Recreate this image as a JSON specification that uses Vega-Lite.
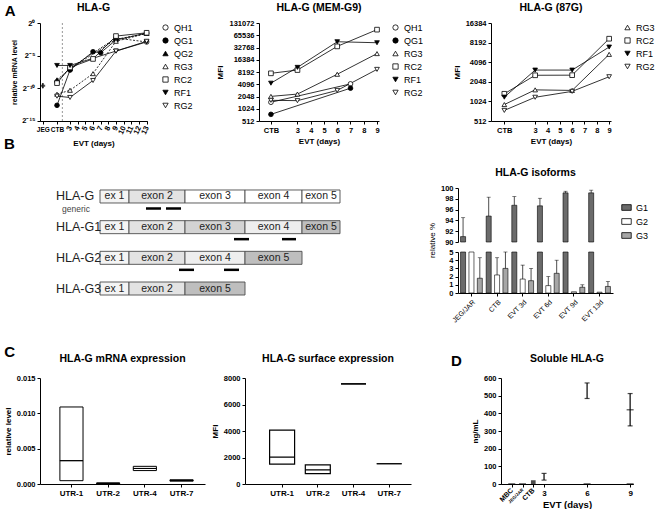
{
 "$schema": "https://vega.github.io/schema/vega-lite/v6.json",
 "padding": {"left": 4, "top": 2, "right": 2, "bottom": 0},
 "background": "white",
 "config": {
  "font": "Liberation Sans",
  "view": {"stroke": null},
  "axis": {"labelFontSize": 7.5, "labelFontWeight": "bold", "labelColor": "black", "titleFontSize": 8, "titleFontWeight": "bold", "titleColor": "black", "domainColor": "black", "tickColor": "black", "tickSize": 3, "grid": false, "labelPadding": 2, "titlePadding": 4, "labelOverlap": false, "tickCount": 40},
  "title": {"fontSize": 10.5, "fontWeight": "bold", "color": "black", "offset": 6},
  "legend": {"labelFontSize": 9, "labelColor": "black", "rowPadding": 3, "symbolStrokeWidth": 0.8, "symbolSize": 28, "offset": 12, "padding": 0}
 },
 "datasets": {
  "a1": [
   {"line": "QH1", "day": 1.3, "level": 0.001953}, {"line": "QH1", "day": 3, "level": 0.008373}, {"line": "QH1", "day": 9, "level": 0.2031}, {"line": "QH1", "day": 13, "level": 0.134},
   {"line": "QG1", "day": 1.3, "level": 0.0001611}, {"line": "QG1", "day": 3, "level": 0.006801}, {"line": "QG1", "day": 6, "level": 0.04737}, {"line": "QG1", "day": 7, "level": 0.0427}, {"line": "QG1", "day": 9, "level": 0.1649}, {"line": "QG1", "day": 13, "level": 0.3415},
   {"line": "QG2", "day": 1.3, "level": 0.002404}, {"line": "QG2", "day": 3, "level": 0.007813}, {"line": "QG2", "day": 9, "level": 0.1768}, {"line": "QG2", "day": 13, "level": 0.3299},
   {"line": "RG3", "day": 1.3, "level": 0.0005237}, {"line": "RG3", "day": 3, "level": 0.0007934}, {"line": "RG3", "day": 6, "level": 0.004645}, {"line": "RG3", "day": 9, "level": 0.1436}, {"line": "RG3", "day": 13, "level": 0.3299},
   {"line": "RC2", "day": 1.3, "level": 0.0017}, {"line": "RC2", "day": 3, "level": 0.008974}, {"line": "RC2", "day": 6, "level": 0.0221}, {"line": "RC2", "day": 9, "level": 0.25}, {"line": "RC2", "day": 13, "level": 0.3536},
   {"line": "RF1", "day": 1.3, "level": 0.01105}, {"line": "RF1", "day": 3, "level": 0.01105}, {"line": "RF1", "day": 9, "level": 0.05077}, {"line": "RF1", "day": 13, "level": 0.134},
   {"line": "RG2", "day": 1.3, "level": 0.0004254}, {"line": "RG2", "day": 3, "level": 0.00037}, {"line": "RG2", "day": 6, "level": 0.002243}, {"line": "RG2", "day": 9, "level": 0.05077}, {"line": "RG2", "day": 13, "level": 0.1436}
  ],
  "jeg": [{"day": -0.55, "lo": 0.00095, "hi": 0.0017, "level": 0.00129}],
  "soluble": [{"day": 3, "lo": 22, "hi": 60}, {"day": 6, "lo": 484, "hi": 572}, {"day": 9, "lo": 329, "hi": 512}],
  "exons": [
   {"iso": "HLA-G", "label": "ex 1", "type": "ex1", "start": 0, "end": 2.9},
   {"iso": "HLA-G", "label": "exon 2", "type": "exon2", "start": 2.9, "end": 8.5},
   {"iso": "HLA-G", "label": "exon 3", "type": "unknown", "start": 8.5, "end": 14.5},
   {"iso": "HLA-G", "label": "exon 4", "type": "unknown", "start": 14.5, "end": 20.2},
   {"iso": "HLA-G", "label": "exon 5", "type": "unknown", "start": 20.2, "end": 24},
   {"iso": "HLA-G1", "label": "ex 1", "type": "ex1", "start": 0, "end": 2.9},
   {"iso": "HLA-G1", "label": "exon 2", "type": "exon2", "start": 2.9, "end": 8.5},
   {"iso": "HLA-G1", "label": "exon 3", "type": "exon3", "start": 8.5, "end": 14.5},
   {"iso": "HLA-G1", "label": "exon 4", "type": "exon4", "start": 14.5, "end": 20.2},
   {"iso": "HLA-G1", "label": "exon 5", "type": "exon5", "start": 20.2, "end": 24},
   {"iso": "HLA-G2", "label": "ex 1", "type": "ex1", "start": 0, "end": 2.9},
   {"iso": "HLA-G2", "label": "exon 2", "type": "exon2", "start": 2.9, "end": 8.5},
   {"iso": "HLA-G2", "label": "exon 4", "type": "exon4", "start": 8.5, "end": 14.5},
   {"iso": "HLA-G2", "label": "exon 5", "type": "exon5", "start": 14.5, "end": 20.2},
   {"iso": "HLA-G3", "label": "ex 1", "type": "ex1", "start": 0, "end": 2.9},
   {"iso": "HLA-G3", "label": "exon 2", "type": "exon2", "start": 2.9, "end": 8.5},
   {"iso": "HLA-G3", "label": "exon 5", "type": "exon5", "start": 8.5, "end": 14.5}
  ]
 },
 "columns": 1,
 "spacing": -12,
 "resolve": {"scale": {"fill": "independent", "shape": "independent", "strokeDash": "independent"}, "legend": {"fill": "independent", "shape": "independent", "strokeDash": "independent"}},
 "concat": [
  {
   "bounds": "flush",
   "spacing": 112,
   "resolve": {"scale": {"fill": "independent", "shape": "independent", "strokeDash": "independent"}, "legend": {"fill": "independent", "shape": "independent", "strokeDash": "independent"}},
   "title": {"text": "A", "anchor": "start", "fontSize": 15, "offset": -16, "dx": -6},
   "hconcat": [
    {
     "title": "HLA-G",
     "width": 107,
     "height": 98,
     "data": {"name": "a1"},
     "resolve": {"scale": {"x": "independent"}, "axis": {"x": "independent"}},
     "layer": [
      {
       "data": {"values": [{}]},
       "mark": {"type": "rule", "strokeDash": [2, 2], "color": "#999999", "strokeWidth": 1},
       "encoding": {"x": {"datum": 2.0, "type": "quantitative", "scale": {"domain": [-0.92, 13.05], "nice": false, "zero": false}, "axis": null}}
      },
      {
       "transform": [{"filter": "datum.line == 'QG1' || datum.line == 'RC2' || datum.line == 'RF1' || datum.line == 'RG2'"}],
       "mark": {"type": "line", "color": "black", "strokeWidth": 0.8},
       "encoding": {
        "x": {"field": "day", "type": "quantitative", "scale": {"domain": [-0.92, 13.05], "nice": false, "zero": false},
              "axis": {"orient": "bottom", "values": [3, 4, 5, 6, 7, 8, 9, 10, 11, 12, 13], "format": "d", "labelAngle": -65, "labelAlign": "right", "labelBaseline": "middle", "title": "EVT (days)"}},
        "y": {"field": "level", "type": "quantitative", "scale": {"type": "log", "base": 2, "domain": [0.000030517578125, 1], "nice": false},
              "axis": {"values": [1, 0.03125, 0.0009765625, 0.00003052], "labelExpr": "datum.value > 0.5 ? '2⁰' : datum.value > 0.01 ? '2⁻⁵' : datum.value > 0.0005 ? '2⁻¹⁰' : '2⁻¹⁵'", "title": "relative mRNA level", "titleFontSize": 7}},
        "detail": {"field": "line", "type": "nominal"}
       }
      },
      {
       "transform": [{"filter": "datum.line == 'QH1' || datum.line == 'QG2' || datum.line == 'RG3'"}],
       "mark": {"type": "line", "color": "black", "strokeWidth": 0.8, "strokeDash": [2, 1.5]},
       "encoding": {
        "x": {"field": "day", "type": "quantitative", "scale": {"domain": [-0.92, 13.05], "nice": false, "zero": false}, "axis": null},
        "y": {"field": "level", "type": "quantitative"},
        "detail": {"field": "line", "type": "nominal"}
       }
      },
      {
       "mark": {"type": "point", "filled": true, "stroke": "black", "strokeWidth": 0.8, "size": 22, "opacity": 1},
       "encoding": {
        "x": {"field": "day", "type": "quantitative", "scale": {"domain": [-0.92, 13.05], "nice": false, "zero": false},
              "axis": {"orient": "bottom", "values": [-0.55, 1.3], "labelAngle": 0, "labelFontSize": 6.5, "labelExpr": "datum.value < 0 ? 'JEG' : 'CTB'", "title": null}},
        "y": {"field": "level", "type": "quantitative"},
        "shape": {"field": "line", "type": "nominal", "scale": {"domain": ["QH1", "QG1", "QG2", "RG3", "RC2", "RF1", "RG2"], "range": ["circle", "circle", "triangle-up", "triangle-up", "square", "triangle-down", "triangle-down"]}, "legend": {"title": null}},
        "fill": {"field": "line", "type": "nominal", "scale": {"domain": ["QH1", "QG1", "QG2", "RG3", "RC2", "RF1", "RG2"], "range": ["white", "black", "black", "white", "white", "black", "white"]}, "legend": {"title": null}}
       }
      },
      {
       "data": {"name": "jeg"},
       "mark": {"type": "rule", "color": "black", "strokeWidth": 0.8},
       "encoding": {"x": {"field": "day", "type": "quantitative", "scale": {"domain": [-0.92, 13.05], "nice": false, "zero": false}, "axis": null}, "y": {"field": "lo", "type": "quantitative"}, "y2": {"field": "hi"}}
      },
      {
       "data": {"name": "jeg"},
       "mark": {"type": "point", "shape": "cross", "filled": true, "color": "black", "size": 22},
       "encoding": {"x": {"field": "day", "type": "quantitative", "scale": {"domain": [-0.92, 13.05], "nice": false, "zero": false}, "axis": null}, "y": {"field": "level", "type": "quantitative"}}
      }
     ]
    },
    {
     "title": "HLA-G (MEM-G9)",
     "width": 120,
     "height": 98,
     "data": {"values": [
      {"line": "QH1", "day": 1, "mfi": 1480}, {"line": "QH1", "day": 7, "mfi": 4180},
      {"line": "QG1", "day": 1, "mfi": 745}, {"line": "QG1", "day": 7, "mfi": 3280},
      {"line": "RG3", "day": 1, "mfi": 2060}, {"line": "RG3", "day": 3, "mfi": 2350}, {"line": "RG3", "day": 6, "mfi": 7200}, {"line": "RG3", "day": 9, "mfi": 23200},
      {"line": "RC2", "day": 1, "mfi": 7600}, {"line": "RC2", "day": 3, "mfi": 9150}, {"line": "RC2", "day": 6, "mfi": 34900}, {"line": "RC2", "day": 9, "mfi": 90000},
      {"line": "RF1", "day": 1, "mfi": 4350}, {"line": "RF1", "day": 3, "mfi": 10650}, {"line": "RF1", "day": 6, "mfi": 45400}, {"line": "RF1", "day": 9, "mfi": 42900},
      {"line": "RG2", "day": 1, "mfi": 1650}, {"line": "RG2", "day": 3, "mfi": 1620}, {"line": "RG2", "day": 6, "mfi": 2890}, {"line": "RG2", "day": 9, "mfi": 9500}
     ]},
     "encoding": {
      "x": {"field": "day", "type": "quantitative", "scale": {"domain": [0.1, 9.15], "nice": false, "zero": false},
            "axis": {"values": [1, 3, 4, 5, 6, 7, 8, 9], "labelAngle": 0, "labelExpr": "datum.value == 1 ? 'CTB' : format(datum.value, 'd')", "title": "EVT (days)"}},
      "y": {"field": "mfi", "type": "quantitative", "scale": {"type": "log", "base": 2, "domain": [512, 131072], "nice": false},
            "axis": {"values": [512, 1024, 2048, 4096, 8192, 16384, 32768, 65536, 131071.9], "labelExpr": "format(round(datum.value), 'd')", "title": "MFI"}}
     },
     "layer": [
      {"data": {"values": [{}]}, "mark": {"type": "rule", "strokeDash": [2, 2], "color": "#999999", "strokeWidth": 1}, "encoding": {"x": {"datum": 2.3, "type": "quantitative"}, "y": null}},
      {"mark": {"type": "line", "color": "black", "strokeWidth": 0.8}, "encoding": {"detail": {"field": "line", "type": "nominal"}}},
      {
       "mark": {"type": "point", "filled": true, "stroke": "black", "strokeWidth": 0.8, "size": 22, "opacity": 1},
       "encoding": {
        "shape": {"field": "line", "type": "nominal", "scale": {"domain": ["QH1", "QG1", "RG3", "RC2", "RF1", "RG2"], "range": ["circle", "circle", "triangle-up", "square", "triangle-down", "triangle-down"]}, "legend": {"title": null}},
        "fill": {"field": "line", "type": "nominal", "scale": {"domain": ["QH1", "QG1", "RG3", "RC2", "RF1", "RG2"], "range": ["white", "black", "white", "white", "black", "white"]}, "legend": {"title": null}}
       }
      }
     ]
    },
    {
     "title": "HLA-G (87G)",
     "width": 120,
     "height": 98,
     "data": {"values": [
      {"line": "RG3", "day": 0.5, "mfi": 916}, {"line": "RG3", "day": 3, "mfi": 1540}, {"line": "RG3", "day": 6, "mfi": 1510}, {"line": "RG3", "day": 9, "mfi": 5400},
      {"line": "RC2", "day": 0.5, "mfi": 1340}, {"line": "RC2", "day": 3, "mfi": 2580}, {"line": "RC2", "day": 6, "mfi": 2590}, {"line": "RC2", "day": 9, "mfi": 9400},
      {"line": "RF1", "day": 0.5, "mfi": 1190}, {"line": "RF1", "day": 3, "mfi": 3100}, {"line": "RF1", "day": 6, "mfi": 3100}, {"line": "RF1", "day": 9, "mfi": 7000},
      {"line": "RG2", "day": 0.5, "mfi": 745}, {"line": "RG2", "day": 3, "mfi": 1185}, {"line": "RG2", "day": 6, "mfi": 1460}, {"line": "RG2", "day": 9, "mfi": 2450}
     ]},
     "encoding": {
      "x": {"field": "day", "type": "quantitative", "scale": {"domain": [-0.58, 9.15], "nice": false, "zero": false},
            "axis": {"values": [0.5, 3, 4, 5, 6, 7, 8, 9], "labelAngle": 0, "labelExpr": "datum.value < 1 ? 'CTB' : format(datum.value, 'd')", "title": "EVT (days)"}},
      "y": {"field": "mfi", "type": "quantitative", "scale": {"type": "log", "base": 2, "domain": [512, 16384], "nice": false},
            "axis": {"values": [512, 1024, 2048, 4096, 8192, 16383.9], "labelExpr": "format(round(datum.value), 'd')", "title": "MFI"}}
     },
     "layer": [
      {"data": {"values": [{}]}, "mark": {"type": "rule", "strokeDash": [2, 2], "color": "#999999", "strokeWidth": 1}, "encoding": {"x": {"datum": 2.2, "type": "quantitative"}, "y": null}},
      {"mark": {"type": "line", "color": "black", "strokeWidth": 0.8}, "encoding": {"detail": {"field": "line", "type": "nominal"}}},
      {
       "mark": {"type": "point", "filled": true, "stroke": "black", "strokeWidth": 0.8, "size": 22, "opacity": 1},
       "encoding": {
        "shape": {"field": "line", "type": "nominal", "scale": {"domain": ["RG3", "RC2", "RF1", "RG2"], "range": ["triangle-up", "square", "triangle-down", "triangle-down"]}, "legend": {"title": null}},
        "fill": {"field": "line", "type": "nominal", "scale": {"domain": ["RG3", "RC2", "RF1", "RG2"], "range": ["white", "white", "black", "white"]}, "legend": {"title": null}}
       }
      }
     ]
    }
   ]
  },
  {
   "columns": 1,
   "spacing": 20,
   "resolve": {"scale": {"fill": "independent", "shape": "independent", "strokeDash": "independent"}, "legend": {"fill": "independent", "shape": "independent", "strokeDash": "independent"}},
   "concat": [
    {
     "bounds": "flush",
     "spacing": 118,
     "resolve": {"scale": {"fill": "independent", "shape": "independent", "strokeDash": "independent"}, "legend": {"fill": "independent", "shape": "independent", "strokeDash": "independent"}},
     "title": {"text": "B", "anchor": "start", "fontSize": 15, "offset": 16, "dx": -36},
     "hconcat": [
      {
       "width": 300,
       "height": 109,
       "encoding": {
        "y": {"field": "iso", "type": "nominal", "scale": {"domain": ["HLA-G", "HLA-G1", "HLA-G2", "HLA-G3"], "paddingInner": 0.576, "paddingOuter": 0.065}, "axis": null}
       },
       "layer": [
        {
         "data": {"name": "exons"},
         "mark": {"type": "rect", "stroke": "#4d4d4d", "strokeWidth": 0.9},
         "encoding": {
          "x": {"field": "start", "type": "quantitative", "scale": {"domain": [-6, 24], "nice": false, "zero": false}, "axis": null},
          "x2": {"field": "end"},
          "fill": {"field": "type", "type": "nominal", "scale": {"domain": ["ex1", "exon2", "exon3", "exon4", "exon5", "unknown"], "range": ["#f4f4f4", "#e3e3e3", "#d3d3d3", "#eeeeee", "#bebebe", "#ffffff"]}, "legend": null},
          "strokeDash": {"field": "type", "type": "nominal", "scale": {"domain": ["ex1", "exon2", "exon3", "exon4", "exon5", "unknown"], "range": [[1, 0], [1, 0], [1, 0], [1, 0], [1, 0], [3, 2]]}, "legend": null}
         }
        },
        {
         "data": {"name": "exons"},
         "transform": [
          {"fold": ["start", "end"], "as": ["edge", "pos"]},
          {"aggregate": [{"op": "mean", "field": "pos", "as": "mid"}], "groupby": ["iso", "label"]}
         ],
         "mark": {"type": "text", "fontSize": 10.5, "color": "#222222", "font": "Liberation Sans"},
         "encoding": {
          "x": {"field": "mid", "type": "quantitative"},
          "text": {"field": "label"}
         }
        },
        {
         "data": {"values": [{"iso": "HLA-G"}, {"iso": "HLA-G1"}, {"iso": "HLA-G2"}, {"iso": "HLA-G3"}]},
         "mark": {"type": "text", "fontSize": 12.5, "align": "left", "color": "#222222", "font": "Liberation Sans"},
         "encoding": {
          "x": {"datum": -4.4, "type": "quantitative"},
          "text": {"field": "iso"}
         }
        },
        {
         "data": {"values": [{"iso": "HLA-G", "note": "generic"}]},
         "mark": {"type": "text", "fontSize": 8.5, "align": "left", "dy": 13, "color": "#444444", "font": "Liberation Sans"},
         "encoding": {
          "x": {"datum": -3.8, "type": "quantitative"},
          "text": {"field": "note"}
         }
        },
        {
         "data": {"values": [
          {"iso": "HLA-G", "start": 4.6, "end": 6.1}, {"iso": "HLA-G", "start": 6.6, "end": 8.1},
          {"iso": "HLA-G1", "start": 13.4, "end": 14.9}, {"iso": "HLA-G1", "start": 18.2, "end": 19.6},
          {"iso": "HLA-G2", "start": 7.9, "end": 9.4}, {"iso": "HLA-G2", "start": 12.4, "end": 13.9}
         ]},
         "mark": {"type": "rule", "strokeWidth": 2.5, "color": "black", "yOffset": 12},
         "encoding": {
          "x": {"field": "start", "type": "quantitative"},
          "x2": {"field": "end"}
         }
        }
       ]
      },
      {
       "title": "HLA-G isoforms",
       "width": 155,
       "height": 105,
       "data": {"values": [
        {"grp": "JEG/JAR", "iso": "G1", "value": 91.0, "hi": 94.5}, {"grp": "JEG/JAR", "iso": "G2", "value": 7.2, "hi": null}, {"grp": "JEG/JAR", "iso": "G3", "value": 1.8, "hi": 4.3},
        {"grp": "CTB", "iso": "G1", "value": 94.8, "hi": 98.3}, {"grp": "CTB", "iso": "G2", "value": 2.2, "hi": 4.3}, {"grp": "CTB", "iso": "G3", "value": 3.0, "hi": 5.6},
        {"grp": "EVT 3d", "iso": "G1", "value": 96.8, "hi": 98.4}, {"grp": "EVT 3d", "iso": "G2", "value": 1.7, "hi": 3.4}, {"grp": "EVT 3d", "iso": "G3", "value": 1.5, "hi": 3.0},
        {"grp": "EVT 6d", "iso": "G1", "value": 96.7, "hi": 98.1}, {"grp": "EVT 6d", "iso": "G2", "value": 0.9, "hi": 2.0}, {"grp": "EVT 6d", "iso": "G3", "value": 2.4, "hi": 4.0},
        {"grp": "EVT 9d", "iso": "G1", "value": 99.1, "hi": 99.4}, {"grp": "EVT 9d", "iso": "G2", "value": 0.15, "hi": null}, {"grp": "EVT 9d", "iso": "G3", "value": 0.7, "hi": 1.0},
        {"grp": "EVT 13d", "iso": "G1", "value": 99.1, "hi": 99.6}, {"grp": "EVT 13d", "iso": "G2", "value": 0.1, "hi": null}, {"grp": "EVT 13d", "iso": "G3", "value": 0.8, "hi": 1.4}
       ]},
       "resolve": {"scale": {"y": "independent"}, "axis": {"y": "independent"}},
       "encoding": {
        "x": {"field": "grp", "type": "nominal", "sort": ["JEG/JAR", "CTB", "EVT 3d", "EVT 6d", "EVT 9d", "EVT 13d"], "scale": {"domain": ["JEG/JAR", "CTB", "EVT 3d", "EVT 6d", "EVT 9d", "EVT 13d"], "paddingInner": 0.15, "paddingOuter": 0.1},
              "axis": {"labelAngle": -45, "title": null, "labelFontWeight": "normal", "labelFontSize": 7}},
        "xOffset": {"field": "iso", "type": "nominal", "scale": {"domain": ["G1", "G2", "G3"], "paddingInner": 0.4}}
       },
       "layer": [
        {
         "transform": [{"filter": "datum.iso == 'G1'"}],
         "layer": [
          {
           "mark": {"type": "bar", "stroke": "black", "strokeWidth": 0.6},
           "encoding": {
            "y": {"field": "value", "type": "quantitative", "scale": {"domain": [90, 100], "range": [54, 0], "zero": false, "nice": false, "clamp": true},
                  "axis": {"orient": "left", "values": [90, 92, 94, 96, 98, 99.99], "labelExpr": "format(round(datum.value), 'd')", "title": "relative %", "titleY": 52, "titleFontWeight": "normal"}},
            "y2": {"datum": 90},
            "fill": {"field": "iso", "type": "nominal", "scale": {"domain": ["G1", "G2", "G3"], "range": ["#6b6b6b", "#ffffff", "#a6a6a6"]}, "legend": {"title": null, "symbolType": "M-1,-0.6H1V0.6H-1Z", "symbolSize": 90, "symbolStrokeColor": "black", "orient": "none", "legendX": 163, "legendY": 14, "labelFontSize": 9, "labelFontWeight": "normal"}}
           }
          },
          {"mark": {"type": "rule", "strokeWidth": 0.7, "color": "black"}, "encoding": {"y": {"field": "value", "type": "quantitative"}, "y2": {"field": "hi"}}},
          {"mark": {"type": "tick", "orient": "horizontal", "size": 4, "thickness": 0.7, "color": "black"}, "encoding": {"y": {"field": "hi", "type": "quantitative"}}}
         ]
        },
        {
         "layer": [
          {
           "mark": {"type": "bar", "stroke": "black", "strokeWidth": 0.6},
           "encoding": {
            "y": {"field": "value", "type": "quantitative", "scale": {"domain": [0, 5], "range": [105, 64], "zero": false, "nice": false, "clamp": true},
                  "axis": {"orient": "left", "values": [0, 1, 2, 3, 4, 4.999], "labelExpr": "format(round(datum.value), 'd')", "title": null}},
            "y2": {"datum": 0},
            "fill": {"field": "iso", "type": "nominal", "scale": {"domain": ["G1", "G2", "G3"], "range": ["#6b6b6b", "#ffffff", "#a6a6a6"]}, "legend": {"title": null, "symbolType": "M-1,-0.6H1V0.6H-1Z", "symbolSize": 90, "symbolStrokeColor": "black", "orient": "none", "legendX": 163, "legendY": 14, "labelFontSize": 9, "labelFontWeight": "normal"}}
           }
          },
          {"transform": [{"filter": "datum.hi != null && datum.iso != 'G1'"}], "mark": {"type": "rule", "strokeWidth": 0.7, "color": "black"}, "encoding": {"y": {"field": "value", "type": "quantitative"}, "y2": {"field": "hi"}}},
          {"transform": [{"filter": "datum.hi != null && datum.iso != 'G1'"}], "mark": {"type": "tick", "orient": "horizontal", "size": 4, "thickness": 0.7, "color": "black"}, "encoding": {"y": {"field": "hi", "type": "quantitative"}}}
         ]
        }
       ]
      }
     ]
    },
    {
     "bounds": "flush",
     "spacing": 40,
     "resolve": {"scale": {"fill": "independent", "shape": "independent", "strokeDash": "independent"}, "legend": {"fill": "independent", "shape": "independent", "strokeDash": "independent"}},
     "title": {"text": "C", "anchor": "start", "fontSize": 15, "offset": -6},
     "hconcat": [
      {
       "title": {"text": "HLA-G mRNA expression", "offset": 10},
       "width": 165,
       "height": 106,
       "data": {"values": [
        {"utr": "UTR-1", "min": 0.00047, "max": 0.0109, "mean": 0.0033},
        {"utr": "UTR-2", "min": 0.00005, "max": 0.00015, "mean": 0.0001},
        {"utr": "UTR-4", "min": 0.0019, "max": 0.0025, "mean": 0.0022},
        {"utr": "UTR-7", "min": 0.0004, "max": 0.0006, "mean": 0.0005}
       ]},
       "encoding": {
        "x": {"field": "utr", "type": "nominal", "scale": {"paddingInner": 0, "paddingOuter": 0.248, "align": 0.72}, "axis": {"labelAngle": 0, "title": null, "labelFontSize": 8}}
       },
       "layer": [
        {"mark": {"type": "bar", "fill": "white", "stroke": "black", "strokeWidth": 1, "width": {"band": 0.63}},
         "encoding": {"y": {"field": "min", "type": "quantitative", "scale": {"domain": [0, 0.015], "nice": false}, "axis": {"values": [0, 0.005, 0.01, 0.01499], "format": ".3f", "title": "relative level", "titlePadding": 4}}, "y2": {"field": "max"}}},
        {"mark": {"type": "bar", "fill": null, "stroke": "black", "strokeWidth": 1, "width": {"band": 0.63}},
         "encoding": {"y": {"field": "mean", "type": "quantitative", "axis": {"values": [0, 0.005, 0.01, 0.01499], "format": ".3f", "title": "relative level", "titlePadding": 4}}, "y2": {"field": "mean"}}}
       ]
      },
      {
       "title": {"text": "HLA-G surface expression", "offset": 10},
       "width": 166,
       "height": 106,
       "data": {"values": [
        {"utr": "UTR-1", "min": 1500, "max": 4060, "mean": 2030},
        {"utr": "UTR-2", "min": 790, "max": 1450, "mean": 1070},
        {"utr": "UTR-4", "min": 7550, "max": 7550, "mean": 7550},
        {"utr": "UTR-7", "min": 1530, "max": 1530, "mean": 1530}
       ]},
       "encoding": {
        "x": {"field": "utr", "type": "nominal", "scale": {"paddingInner": 0, "paddingOuter": 0.325, "align": 0.83}, "axis": {"labelAngle": 0, "title": null, "labelFontSize": 8}}
       },
       "layer": [
        {"mark": {"type": "bar", "fill": "white", "stroke": "black", "strokeWidth": 1.2, "width": {"band": 0.7}},
         "encoding": {"y": {"field": "min", "type": "quantitative", "scale": {"domain": [0, 8000], "nice": false}, "axis": {"values": [0, 2000, 4000, 6000, 7999.9], "labelExpr": "format(round(datum.value), 'd')", "title": "MFI"}}, "y2": {"field": "max"}}},
        {"mark": {"type": "bar", "fill": null, "stroke": "black", "strokeWidth": 1.2, "width": {"band": 0.7}},
         "encoding": {"y": {"field": "mean", "type": "quantitative", "axis": {"values": [0, 2000, 4000, 6000, 7999.9], "labelExpr": "format(round(datum.value), 'd')", "title": "MFI"}}, "y2": {"field": "mean"}}}
       ]
      },
      {
       "title": {"text": "D", "anchor": "start", "fontSize": 15, "offset": 9},
       "width": 10,
       "height": 106,
       "data": {"values": [{}]},
       "mark": {"type": "point", "opacity": 0}
      },
      {
       "title": {"text": "Soluble HLA-G", "offset": 10},
       "width": 132,
       "height": 106,
       "resolve": {"scale": {"x": "independent"}, "axis": {"x": "independent"}},
       "layer": [
        {
         "data": {"name": "soluble"},
         "mark": {"type": "rule", "color": "black", "strokeWidth": 1.2},
         "encoding": {
          "x": {"field": "day", "type": "quantitative", "scale": {"domain": [0, 9.2], "nice": false, "zero": false},
                "axis": {"orient": "bottom", "values": [3, 6, 9], "format": "d", "labelAngle": 0, "title": "EVT (days)", "titleFontSize": 9.5, "labelFontSize": 8, "titlePadding": 2}},
          "y": {"field": "lo", "type": "quantitative", "scale": {"domain": [0, 600], "nice": false}, "axis": {"values": [0, 100, 200, 300, 400, 500, 599.9], "labelExpr": "format(round(datum.value), 'd')", "title": "ng/mL"}},
          "y2": {"field": "hi"}
         }
        },
        {
         "data": {"name": "soluble"},
         "mark": {"type": "tick", "orient": "horizontal", "size": 5, "thickness": 1.2, "color": "black"},
         "encoding": {"x": {"field": "day", "type": "quantitative", "scale": {"domain": [0, 9.2], "nice": false, "zero": false}, "axis": null}, "y": {"field": "lo", "type": "quantitative", "axis": {"values": [0, 100, 200, 300, 400, 500, 599.9], "labelExpr": "format(round(datum.value), 'd')", "title": "ng/mL"}}}
        },
        {
         "data": {"name": "soluble"},
         "mark": {"type": "tick", "orient": "horizontal", "size": 5, "thickness": 1.2, "color": "black"},
         "encoding": {"x": {"field": "day", "type": "quantitative", "scale": {"domain": [0, 9.2], "nice": false, "zero": false}, "axis": null}, "y": {"field": "hi", "type": "quantitative", "axis": {"values": [0, 100, 200, 300, 400, 500, 599.9], "labelExpr": "format(round(datum.value), 'd')", "title": "ng/mL"}}}
        },
        {
         "data": {"values": [{"day": 9, "mean": 420}]},
         "mark": {"type": "tick", "orient": "horizontal", "size": 7, "thickness": 1.2, "color": "black"},
         "encoding": {"x": {"field": "day", "type": "quantitative", "scale": {"domain": [0, 9.2], "nice": false, "zero": false}, "axis": null}, "y": {"field": "mean", "type": "quantitative", "axis": {"values": [0, 100, 200, 300, 400, 500, 599.9], "labelExpr": "format(round(datum.value), 'd')", "title": "ng/mL"}}}
        },
        {
         "data": {"values": [{"day": 0.75, "val": 0}, {"day": 1.5, "val": 0}, {"day": 6, "val": 0}, {"day": 9, "val": 0}]},
         "mark": {"type": "tick", "orient": "horizontal", "size": 7, "thickness": 1.5, "color": "black"},
         "encoding": {
          "x": {"field": "day", "type": "quantitative", "scale": {"domain": [0, 9.2], "nice": false, "zero": false},
                "axis": {"orient": "bottom", "values": [0.75, 1.5, 2.25], "labelAngle": -45, "labelAlign": "right", "labelBaseline": "middle", "title": null,
                         "labelExpr": "datum.value < 1 ? 'MBC' : datum.value < 2 ? 'JEG/JAR' : 'CTB'",
                         "labelFontSize": {"condition": {"test": "datum.value > 1 && datum.value < 2", "value": 4.5}, "value": 7}}},
          "y": {"field": "val", "type": "quantitative", "axis": {"values": [0, 100, 200, 300, 400, 500, 599.9], "labelExpr": "format(round(datum.value), 'd')", "title": "ng/mL"}}
         }
        },
        {
         "data": {"values": [{"day": 2.25, "val": 8}]},
         "mark": {"type": "point", "shape": "square", "filled": true, "color": "black", "size": 22},
         "encoding": {"x": {"field": "day", "type": "quantitative", "scale": {"domain": [0, 9.2], "nice": false, "zero": false}, "axis": null}, "y": {"field": "val", "type": "quantitative", "axis": {"values": [0, 100, 200, 300, 400, 500, 599.9], "labelExpr": "format(round(datum.value), 'd')", "title": "ng/mL"}}}
        }
       ]
      }
     ]
    }
   ]
  }
 ]
}
